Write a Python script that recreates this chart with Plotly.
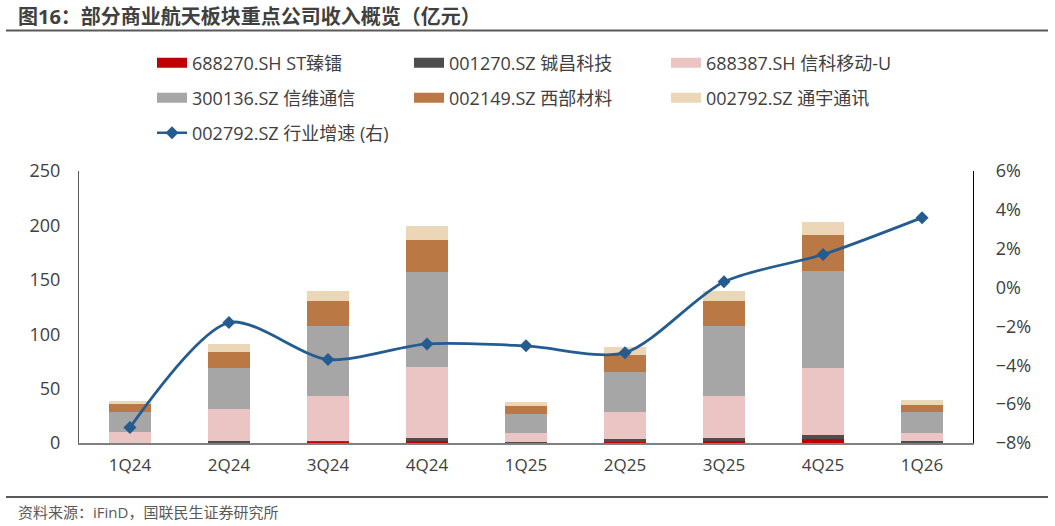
import plotly.graph_objects as go

W, H = 1055, 526
L, R, T, B = 79, 82, 171, 83
PW, PH = W - L - R, H - T - B

categories = ["1Q24", "2Q24", "3Q24", "4Q24", "1Q25", "2Q25", "3Q25", "4Q25", "1Q26"]

s_688270 = [0.0, 0.0, 1.5, 2.2, 0.0, 1.3, 2.0, 3.7, 0.0]
s_001270 = [0.0, 1.5, 0.8, 2.3, 0.5, 2.3, 3.0, 3.7, 1.5]
s_688387 = [9.8, 29.7, 40.9, 65.1, 8.4, 25.2, 38.2, 61.8, 7.4]
s_300136 = [18.4, 37.4, 64.3, 87.3, 17.5, 36.7, 64.3, 88.9, 19.9]
s_002149 = [7.6, 15.3, 23.0, 29.7, 7.6, 15.4, 23.0, 33.1, 6.1]
s_002792 = [3.0, 7.1, 9.2, 13.1, 3.7, 7.1, 9.2, 11.6, 4.6]
growth = [-7.2, -1.8, -3.7, -2.9, -3.0, -3.35, 0.3, 1.7, 3.6]

bar_names = ["688270.SH ST臻镭", "001270.SZ 铖昌科技", "688387.SH 信科移动-U",
             "300136.SZ 信维通信", "002149.SZ 西部材料", "002792.SZ 通宇通讯"]
bar_values = [s_688270, s_001270, s_688387, s_300136, s_002149, s_002792]
bar_colors = ["#C00000", "#4D4D4D", "#EBC4C4", "#A6A6A6", "#BA7844", "#EBD7B8"]
line_name = "002792.SZ 行业增速 (右)"
line_color = "#245C91"

FONT = "Open Sans, Noto Sans CJK SC, sans-serif"
TXT = "#404040"

fig = go.Figure()
for name, vals, col in zip(bar_names, bar_values, bar_colors):
    fig.add_trace(go.Bar(x=categories, y=vals, name=name, marker=dict(color=col, line=dict(width=0)),
                         showlegend=False, yaxis="y"))

fig.add_trace(go.Scatter(x=categories, y=growth, name=line_name, mode="lines+markers",
                         line=dict(color=line_color, width=2.8, shape="spline", smoothing=0.8),
                         marker=dict(symbol="diamond", size=10, color=line_color),
                         yaxis="y2", showlegend=False))

# legend entries (wide swatches), arranged in three rows
legend_rows = [[0, 1, 2], [3, 4, 5]]
legend_ids = ["legend", "legend2"]
for lid, row in zip(legend_ids, legend_rows):
    for i in row:
        fig.add_trace(go.Scatter(x=[None], y=[None], mode="lines", name=bar_names[i],
                                 line=dict(color=bar_colors[i], width=10),
                                 legend=lid, showlegend=True))
fig.add_trace(go.Scatter(x=[None], y=[None], mode="lines+markers", name=line_name,
                         line=dict(color=line_color, width=2.5),
                         marker=dict(symbol="diamond", size=10, color=line_color),
                         legend="legend3", showlegend=True))

def leg(ycenter):
    return dict(orientation="h", xref="container", yref="container",
                x=152 / W, xanchor="left", y=1 - ycenter / H, yanchor="middle",
                entrywidth=212, entrywidthmode="pixels", traceorder="normal",
                font=dict(family=FONT, size=18, color=TXT), bgcolor="rgba(0,0,0,0)",
                itemwidth=30)

def px(xp):
    return (xp - L) / PW

def py(yp):
    return 1 - (yp - T) / PH

fig.update_layout(
    width=W, height=H, autosize=False,
    margin=dict(l=L, r=R, t=T, b=B, pad=0, autoexpand=False),
    plot_bgcolor="white", paper_bgcolor="white",
    barmode="stack", bargap=0.58,
    font=dict(family=FONT, size=17, color=TXT),
    legend=leg(63), legend2=leg(98), legend3=leg(133),
    xaxis=dict(showline=True, linecolor="#808080", linewidth=1.5, ticks="",
               tickfont=dict(size=17, color=TXT), showgrid=False, ticklabelstandoff=6),
    yaxis=dict(range=[0, 250], dtick=50, showline=True, linecolor="#595959", linewidth=1.2,
               ticks="", showgrid=False, zeroline=False, tickfont=dict(size=18, color=TXT),
               ticklabelstandoff=14),
    yaxis2=dict(range=[-8, 6], dtick=2, overlaying="y", side="right", showline=True,
                linecolor="#000000", linewidth=1.2, ticks="", showgrid=False, zeroline=False,
                ticksuffix="%", tickfont=dict(size=18, color=TXT), ticklabelstandoff=18),
    annotations=[
        dict(text="<b>图16：部分商业航天板块重点公司收入概览（亿元）</b>", xref="paper", yref="paper",
             x=px(16), y=py(16), xanchor="left", yanchor="middle", showarrow=False,
             font=dict(family=FONT, size=20, color=TXT)),
        dict(text="资料来源：iFinD，国联民生证券研究所", xref="paper", yref="paper",
             x=px(16), y=py(512), xanchor="left", yanchor="middle", showarrow=False,
             font=dict(family=FONT, size=15, color="#595959")),
    ],
    shapes=[
        dict(type="line", xref="paper", yref="paper", x0=px(6), x1=px(1048), y0=py(30.5), y1=py(30.5),
             line=dict(color="#595959", width=2)),
        dict(type="line", xref="paper", yref="paper", x0=px(6), x1=px(1048), y0=py(497), y1=py(497),
             line=dict(color="#595959", width=2)),
    ],
)

fig.write_html("out.html")
